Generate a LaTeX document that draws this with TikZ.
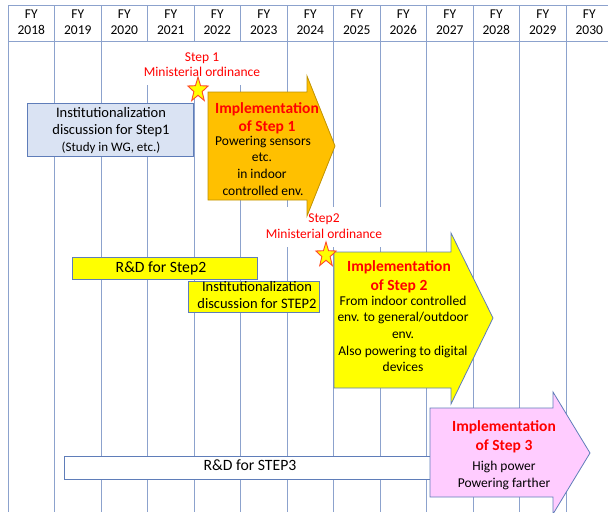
\documentclass[tikz,border=0pt]{standalone}
\usepackage{fontspec}
\setmainfont{Carlito}
\definecolor{gridc}{RGB}{140,162,205}
\definecolor{bord}{RGB}{95,125,185}
\definecolor{bluefill}{RGB}{218,227,243}
\definecolor{orangefill}{RGB}{255,192,0}
\definecolor{orangebord}{RGB}{190,145,0}
\definecolor{yellowfill}{RGB}{255,255,0}
\definecolor{pinkfill}{RGB}{255,204,255}
\definecolor{stepred}{RGB}{255,0,0}
\definecolor{staredge}{RGB}{255,70,40}
\begin{document}
\begin{tikzpicture}[x=1pt,y=-1pt,
  gridline/.style={draw=gridc,line width=0.9pt},
  boxsty/.style={draw=bord,line width=0.8pt,inner sep=0pt},
  txt/.style={inner sep=0pt,text height=0.75em,text depth=0.1em},
  hdr/.style={txt,font=\fontsize{13.5}{16}\selectfont},
  lab/.style={txt,text=stepred,font=\fontsize{13.5}{16}\selectfont},
  big/.style={txt,font=\fontsize{14.5}{17}\selectfont},
  rdf/.style={txt,font=\fontsize{15.7}{18}\selectfont},
  mid/.style={txt,font=\fontsize{13.5}{16}\selectfont},
  small/.style={txt,font=\fontsize{13}{16}\selectfont},
  ttl/.style={txt,text=stepred,font=\fontsize{15.5}{18}\selectfont\bfseries},
  starsty/.style={fill=yellowfill,draw=staredge,line width=0.9pt,line join=miter}
]
\useasboundingbox (0,0) rectangle (608,512);
% grid
\foreach \k in {0,...,12} {\draw[gridline] ({8+46.5*\k},5) -- ({8+46.5*\k},512);}
\draw[gridline] (8,5) -- (608,5);
\draw[gridline] (8,41) -- (608,41);
% header
\foreach \i [count=\k from 0] in {2018,...,2030} {
  \node[hdr] (fya\i) at ({31.25+46.5*\k},15) {FY};
  \node[hdr] (fyb\i) at ({31.25+46.5*\k},31) {\i};
}
% white label backgrounds
\fill[white] (103,42) rectangle (285,85);
\fill[white] (264,207) rectangle (390,247);
% Step1 discussion box
\node[boxsty,fill=bluefill,minimum width=166pt,minimum height=53pt] (b1) at (110,129.5) {};
\node[big] (b1a) at (111,114) {Institutionalization};
\node[big] (b1b) at (111,131.5) {discussion for Step1};
\node[small] (b1c) at (111,148) {(Study in WG, etc.)};
% R&D Step2
\node[boxsty,fill=yellowfill,minimum width=185pt,minimum height=22pt] (rd2) at (164.5,268) {};
\node[rdf] (rd2t) at (161,269) {R\&D for Step2};
% Institutionalization STEP2
\node[boxsty,fill=yellowfill,minimum width=131pt,minimum height=31pt] (in2) at (253.5,296.5) {};
\node[big] (in2a) at (257,288) {Institutionalization};
\node[big] (in2b) at (257,305.5) {discussion for STEP2};
% R&D STEP3
\node[boxsty,fill=white,minimum width=366pt,minimum height=23pt] (rd3) at (247,467.5) {};
\node[rdf] (rd3t) at (250,467) {R\&D for STEP3};
% Arrow 1
\draw[fill=orangefill,draw=orangebord,line width=0.8pt,line join=miter]
  (208,92) -- (307,92) -- (307,76) -- (335,146) -- (307,216) -- (307,200) -- (208,200) -- cycle;
\node[ttl] (a1a) at (267,110) {Implementation};
\node[ttl] (a1b) at (267,128) {of Step 1};
\node[mid] (a1c) at (263,142) {Powering sensors};
\node[mid] (a1d) at (262,158) {etc.};
\node[mid] (a1e) at (262,175) {in indoor};
\node[mid] (a1f) at (263,192) {controlled env.};
% Arrow 2
\draw[fill=yellowfill,draw=bord,line width=0.8pt,line join=miter]
  (334,252) -- (451,252) -- (451,233) -- (493,318) -- (451,404) -- (451,388) -- (334,388) -- cycle;
\node[ttl] (a2a) at (399,268) {Implementation};
\node[ttl] (a2b) at (399,287) {of Step 2};
\node[mid] (a2c) at (403,302) {From indoor controlled};
\node[mid] (a2d) at (403,318) {env. to general/outdoor};
\node[mid] (a2e) at (403,335) {env.};
\node[mid] (a2f) at (403,352) {Also powering to digital};
\node[mid] (a2g) at (403,368) {devices};
% Arrow 3
\draw[fill=pinkfill,draw=bord,line width=0.8pt,line join=miter]
  (430,408) -- (553,408) -- (553,392) -- (590,453) -- (553,514) -- (553,497) -- (430,497) -- cycle;
\node[ttl] (a3a) at (504,428) {Implementation};
\node[ttl] (a3b) at (504,447) {of Step 3};
\node[mid] (a3c) at (504,467) {High power};
\node[mid] (a3d) at (504,484) {Powering farther};
% Step labels
\node[lab] (s1a) at (202,58) {Step 1};
\node[lab] (s1b) at (202,73) {Ministerial ordinance};
\node[lab] (s2a) at (324,219) {Step2};
\node[lab] (s2b) at (324,235) {Ministerial ordinance};
% stars
\coordinate (star1) at (198,90);
\coordinate (star2) at (326,255);
\foreach \c in {star1,star2} {
\draw[starsty,shift={(\c)},xscale=0.82,yscale=-1]
  (90:13) -- (126:5.3) -- (162:13) -- (198:5.3) -- (234:13) -- (270:5.3)
  -- (306:13) -- (342:5.3) -- (18:13) -- (54:5.3) -- cycle;
}
\end{tikzpicture}
\end{document}
